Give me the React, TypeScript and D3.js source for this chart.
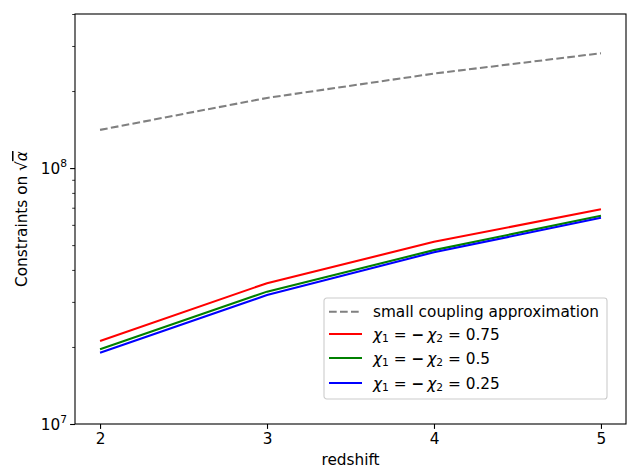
import { useEffect, useRef } from 'react';
import * as d3 from 'd3';

const redshift = [2, 3, 4, 5];
const smallCoupling = [1.41e8, 1.88e8, 2.34e8, 2.81e8];
const chi075 = [2.11e7, 3.55e7, 5.15e7, 6.91e7];
const chi050 = [1.96e7, 3.29e7, 4.78e7, 6.51e7];
const chi025 = [1.9e7, 3.19e7, 4.69e7, 6.39e7];
const xTicks = [2, 3, 4, 5];
const yMajorTicks = [1e7, 1e8];
const yMinorTicks = [2e7, 3e7, 4e7, 5e7, 6e7, 7e7, 8e7, 9e7, 2e8, 3e8, 4e8];

const seriesList = [
  { key: 'small', values: smallCoupling, color: '#808080', dashed: true, label: 'small coupling approximation' },
  { key: 'c75', values: chi075, color: '#ff0000', dashed: false, label: '0.75' },
  { key: 'c50', values: chi050, color: '#008000', dashed: false, label: '0.5' },
  { key: 'c25', values: chi025, color: '#0000ff', dashed: false, label: '0.25' },
];

const FONT = "'DejaVu Sans', sans-serif";
const FS = 15.3;
const FS_SMALL = 10.7;

export default function App() {
  const ref = useRef<SVGSVGElement>(null);

  useEffect(() => {
    const svg = d3.select(ref.current);
    svg.selectAll('*').remove();

    const W = 627, H = 469;
    const margin = { left: 75, right: 1, top: 14, bottom: 45 };
    const x = d3.scaleLinear().domain([1.85, 5.15]).range([margin.left, W - margin.right]);
    const y = d3.scaleLog().domain([1e7, 4e8]).range([H - margin.bottom, margin.top]);

    svg.append('rect').attr('width', W).attr('height', H).attr('fill', '#fff');

    const line = d3.line<number>().x((_, i) => x(redshift[i])).y(d => y(d));

    seriesList.forEach(s => {
      svg.append('path')
        .datum(s.values)
        .attr('d', line)
        .attr('fill', 'none')
        .attr('stroke', s.color)
        .attr('stroke-width', 2.08)
        .attr('stroke-dasharray', s.dashed ? '7.7,3.3' : null);
    });

    // axes
    const xAxis = svg.append('g').attr('transform', `translate(0,${H - margin.bottom})`)
      .call(d3.axisBottom(x).tickValues(xTicks).tickSize(4.9).tickPadding(4.5).tickFormat(d3.format('d')));
    xAxis.select('.domain').remove();
    xAxis.selectAll('.tick line').attr('stroke', '#000').attr('stroke-width', 1.1);
    xAxis.selectAll('text').attr('fill', '#000').style('font-family', FONT).style('font-size', `${FS}px`);

    const yAxis = svg.append('g').attr('transform', `translate(${margin.left},0)`)
      .call(d3.axisLeft(y).tickValues(yMinorTicks).tickSize(2.8).tickFormat(() => ''));
    yAxis.select('.domain').remove();
    yAxis.selectAll('.tick line').attr('stroke', '#000').attr('stroke-width', 0.8);

    const yMajor = svg.append('g').attr('transform', `translate(${margin.left},0)`)
      .call(d3.axisLeft(y).tickValues(yMajorTicks).tickSize(4.9).tickFormat(() => ''));
    yMajor.select('.domain').remove();
    yMajor.selectAll('.tick line').attr('stroke', '#000').attr('stroke-width', 1.1);

    yMajorTicks.forEach(v => {
      const t = svg.append('text')
        .attr('x', margin.left - 8)
        .attr('y', y(v) + 5.5)
        .attr('text-anchor', 'end')
        .style('font-family', FONT).style('font-size', `${FS}px`);
      t.append('tspan').text('10');
      t.append('tspan').attr('dy', -6.5).style('font-size', `${FS_SMALL}px`).text(String(Math.round(Math.log10(v))));
    });

    svg.append('rect')
      .attr('x', margin.left).attr('y', margin.top)
      .attr('width', W - margin.right - margin.left)
      .attr('height', H - margin.bottom - margin.top)
      .attr('fill', 'none').attr('stroke', '#000').attr('stroke-width', 1.1);

    svg.append('text')
      .attr('x', (margin.left + W - margin.right) / 2)
      .attr('y', 465)
      .attr('text-anchor', 'middle')
      .style('font-family', FONT).style('font-size', `${FS}px`)
      .text('redshift');

    // y label
    const yl = svg.append('g').attr('transform', `translate(27,${(margin.top + H - margin.bottom) / 2}) rotate(-90)`);
    const ylt = yl.append('text').attr('text-anchor', 'middle')
      .style('font-family', FONT).style('font-size', `${FS}px`);
    ylt.append('tspan').text('Constraints on ');
    ylt.append('tspan').text('√');
    ylt.append('tspan').style('font-style', 'italic').style('text-decoration', 'overline').text('α');

    // legend
    const lg = svg.append('g').attr('transform', 'translate(324,298)');
    lg.append('rect').attr('width', 283).attr('height', 101).attr('rx', 2.8)
      .attr('fill', 'rgba(255,255,255,0.8)').attr('stroke', '#cccccc').attr('stroke-width', 1.1);
    const rowY = [13.7, 36, 60, 85];
    seriesList.forEach((s, i) => {
      lg.append('line').attr('x1', 5).attr('x2', 38).attr('y1', rowY[i]).attr('y2', rowY[i])
        .attr('stroke', s.color).attr('stroke-width', 2.08)
        .attr('stroke-dasharray', s.dashed ? '7.7,3.3' : null);
      const t = lg.append('text').attr('x', 49).attr('y', rowY[i] + 5.5)
        .style('font-family', FONT).style('font-size', `${FS}px`);
      if (s.dashed) {
        t.text(s.label);
      } else {
        t.append('tspan').style('font-style', 'italic').text('χ');
        t.append('tspan').attr('dy', 2.8).style('font-size', `${FS_SMALL}px`).text('1');
        t.append('tspan').attr('dy', -2.8).text(' = ');
        t.append('tspan').style('font-weight', 'bold').text('−\u2009');
        t.append('tspan').style('font-style', 'italic').text('χ');
        t.append('tspan').attr('dy', 2.8).style('font-size', `${FS_SMALL}px`).text('2');
        t.append('tspan').attr('dy', -2.8).text(' = ' + s.label);
      }
    });
  }, []);

  return (
    <div style={{ position: 'absolute', left: 0, top: 0 }}>
      <svg ref={ref} width={627} height={469} style={{ display: 'block' }} />
    </div>
  );
}
